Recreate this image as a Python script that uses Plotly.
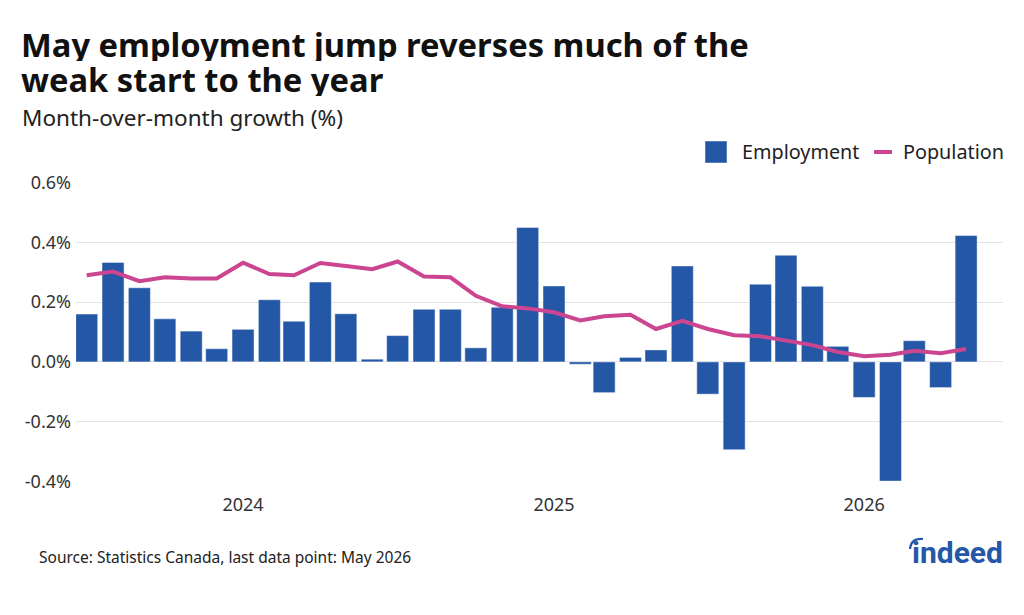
import pandas as pd
import plotly.graph_objects as go

# ---- data ----
months = list(pd.date_range("2023-07-01", "2026-05-01", freq="MS").strftime("%Y-%m-%d"))
employment = [0.160, 0.333, 0.248, 0.144, 0.103, 0.044, 0.109, 0.208, 0.136, 0.267, 0.161, 0.009,
              0.088, 0.176, 0.176, 0.047, 0.183, 0.450, 0.254, -0.008, -0.103, 0.015, 0.040, 0.321,
              -0.108, -0.294, 0.260, 0.357, 0.253, 0.052, -0.119, -0.399, 0.071, -0.086, 0.423]
population = [0.290, 0.302, 0.270, 0.283, 0.279, 0.279, 0.332, 0.294, 0.290, 0.331, 0.321, 0.310,
              0.336, 0.286, 0.283, 0.221, 0.186, 0.179, 0.166, 0.139, 0.153, 0.158, 0.110, 0.137,
              0.110, 0.089, 0.086, 0.072, 0.056, 0.033, 0.019, 0.024, 0.037, 0.029, 0.043]
y_ticks = [-0.4, -0.2, 0.0, 0.2, 0.4, 0.6]
y_ticktext = ["-0.4%", "-0.2%", "0.0%", "0.2%", "0.4%", "0.6%"]
x_ticks = ["2024-01-01", "2025-01-01", "2026-01-01"]
x_ticktext = ["2024", "2025", "2026"]
title_lines = ["May employment jump reverses much of the", "weak start to the year"]

BLUE = "#2557a7"
PINK = "#cb4590"
FONT = "Noto Sans"
TXT = "#222222"

fig = go.Figure()
fig.add_trace(go.Bar(x=months, y=employment, name="Employment",
                     marker=dict(color=BLUE, line=dict(color="rgba(255,255,255,0.45)", width=1)),
                     showlegend=False))
fig.add_trace(go.Scatter(x=months, y=population, name="Population", mode="lines",
                         line=dict(color=PINK, width=4), showlegend=False))

fig.update_layout(
    width=1024, height=615,
    margin=dict(l=76, r=21, t=182, b=133),
    paper_bgcolor="white", plot_bgcolor="white",
    bargap=0.075,
    font=dict(family=FONT, color=TXT),
    xaxis=dict(type="date", range=["2023-06-18 10:00", "2026-06-13 10:00"],
               tickvals=x_ticks, ticktext=x_ticktext, showgrid=False, zeroline=False,
               showline=False, ticks="", tickfont=dict(size=18, color="#333333"),
               ticklabelstandoff=10),
    yaxis=dict(range=[-0.402, 0.602], tickvals=y_ticks, ticktext=y_ticktext,
               showgrid=True, gridcolor="#e3e3e3", gridwidth=1, zeroline=False,
               showline=False, ticks="", tickfont=dict(size=18, color="#333333"),
               ticklabelstandoff=4),
)

def px_x(p):
    return (p - 76) / 927

def px_y(p):
    return (482 - p) / 300

annotations = [
    dict(text=f"<b>{title_lines[0]}</b>", x=px_x(19), y=px_y(44), xanchor="left", yanchor="middle",
         height=34, valign="middle", font=dict(size=32.7, color="#111111")),
    dict(text=f"<b>{title_lines[1]}</b>", x=px_x(19), y=px_y(79), xanchor="left", yanchor="middle",
         height=34, valign="middle", font=dict(size=32.7, color="#111111")),
    dict(text="Month-over-month growth (%)", x=px_x(20), y=px_y(117), xanchor="left", yanchor="middle",
         font=dict(size=22.5, color=TXT)),
    dict(text="Source: Statistics Canada, last data point: May 2026", x=px_x(37), y=px_y(557),
         xanchor="left", yanchor="middle", font=dict(size=15.5, color=TXT)),
    dict(text="Employment", x=px_x(740), y=px_y(152), xanchor="left", yanchor="middle",
         font=dict(size=19.8, color=TXT)),
    dict(text="Population", x=px_x(901), y=px_y(152), xanchor="left", yanchor="middle",
         font=dict(size=19.8, color=TXT)),
    dict(text="<b>indeed</b>", x=px_x(1005), y=px_y(552), xanchor="right", yanchor="middle",
         font=dict(size=30, color=BLUE, family="Roboto")),
]
for a in annotations:
    a.update(xref="paper", yref="paper", showarrow=False)
fig.update_layout(annotations=annotations)

shapes = [
    dict(type="rect", x0=px_x(705), x1=px_x(727), y0=px_y(163), y1=px_y(141),
         fillcolor=BLUE, line=dict(color="rgba(255,255,255,0.45)", width=1)),
    dict(type="line", x0=px_x(874), x1=px_x(892), y0=px_y(152), y1=px_y(152),
         line=dict(color=PINK, width=4)),
    dict(type="path",
         path=f"M {px_x(910)},{px_y(549)} Q {px_x(911)},{px_y(538)} {px_x(923)},{px_y(539)}",
         line=dict(color=BLUE, width=2.2)),
]
for s in shapes:
    s.update(xref="paper", yref="paper")
fig.update_layout(shapes=shapes)

fig.write_html("out.html")
